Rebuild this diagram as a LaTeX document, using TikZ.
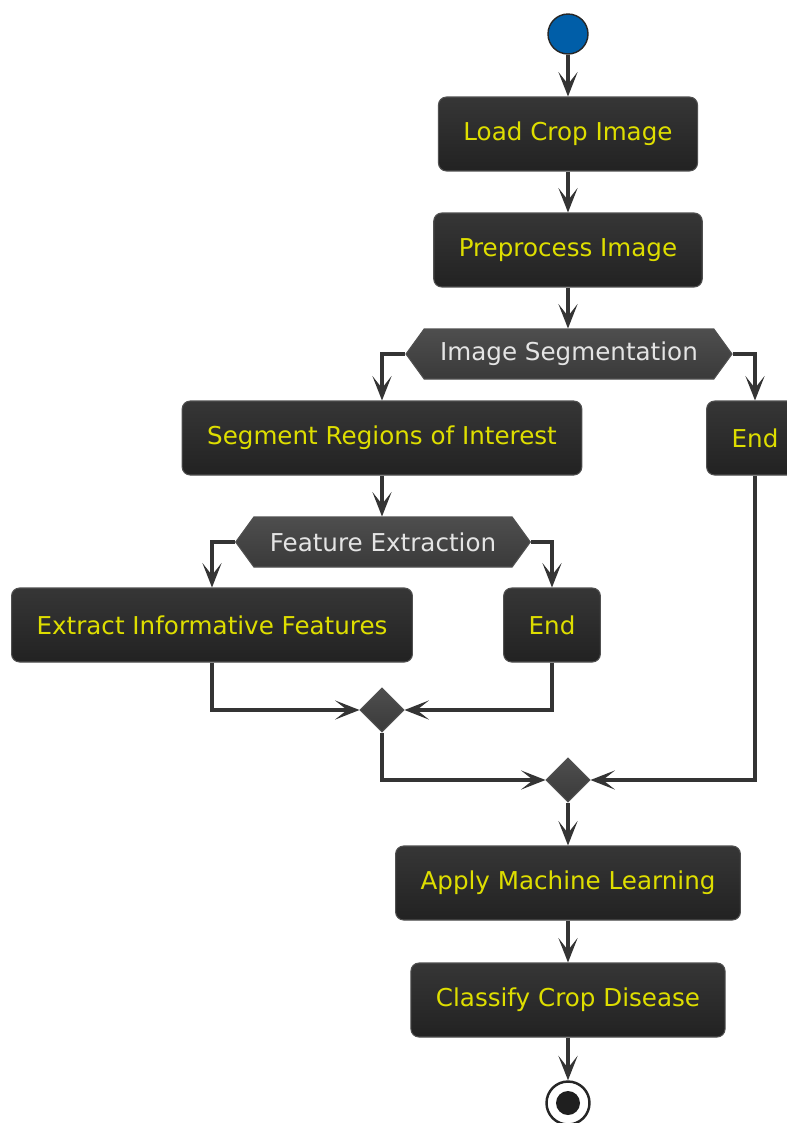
\documentclass[tikz,border=0pt]{standalone}
\usepackage{fontspec}
\setmainfont{DejaVu Sans}
\usepackage{xcolor}
\usepackage{tikz}
\usetikzlibrary{positioning,calc,shapes.symbols,shapes.geometric,arrows.meta}
\definecolor{umlLine}{RGB}{52,52,52}

\begin{document}
\begin{tikzpicture}[x=0.02cm, y=-0.02cm]
	\definecolor{actTop}{RGB}{54,54,54}
	\definecolor{actBot}{RGB}{34,34,34}
	\definecolor{actBorder}{RGB}{80,80,80}
	\definecolor{actText}{RGB}{222,222,0}
	\definecolor{hexTop}{RGB}{78,78,78}
	\definecolor{hexBot}{RGB}{58,58,58}
	\definecolor{hexText}{RGB}{228,228,228}
	\definecolor{startBlue}{RGB}{0,94,168}
	\tikzset{
		actnode/.style={
			shape=rectangle,
			rounded corners=0.16cm,
			draw=actBorder,
			line width=0.6pt,
			top color=actTop,
			bottom color=actBot,
			minimum height=1.48cm,
			inner xsep=0.5cm,
			font=\fontsize{14}{16}\selectfont,
			text=actText
		},
		choice/.style={
			shape=signal,
			signal to=west and east,
			signal pointer angle=108,
			draw=actBorder,
			line width=0.6pt,
			top color=hexTop,
			bottom color=hexBot,
			minimum height=1.0cm,
			inner xsep=0.32cm,
			font=\fontsize{14}{16}\selectfont,
			text=hexText
		},
		merge/.style={
			shape=diamond,
			draw=actBorder,
			line width=0.6pt,
			top color=hexTop,
			bottom color=hexBot,
			minimum size=0.88cm,
			inner sep=0pt
		},
		startdot/.style={circle, draw=black!85, line width=0.8pt, fill=startBlue, minimum size=0.8cm, inner sep=0pt},
		stopring/.style={circle, draw=black!85, line width=1.4pt, fill=white, minimum size=0.86cm, inner sep=0pt},
		stopdot/.style={circle, fill=black!88, minimum size=0.48cm, inner sep=0pt},
		flow/.style={draw=umlLine, line width=2.3pt, -{Stealth[length=14pt, width=11pt, inset=7pt, line width=0.8pt]}}
	}
	\useasboundingbox (0,0) rectangle (787,1123);
	
	% luong chinh
	\node[startdot] (start) at (568,34) {};
	\node[actnode] (load) at (568,134) {Load Crop Image};
	\node[actnode] (prep) at (568,250) {Preprocess Image};
	\node[choice] (seg) at (569,354) {Image Segmentation};
	\node[actnode] (roi) at (382,438) {Segment Regions of Interest};
	\node[actnode] (endA) at (755,438) {End};
	\node[choice] (fex) at (383,542) {Feature Extraction};
	\node[actnode] (feat) at (212,625) {Extract Informative Features};
	\node[actnode] (endB) at (552,625) {End};
	\node[merge] (mergeA) at (382,710) {};
	\node[merge] (mergeB) at (568,780) {};
	\node[actnode] (learn) at (568,883) {Apply Machine Learning};
	\node[actnode] (classify) at (568,1000) {Classify Crop Disease};
	\node[stopring] (stop) at (568,1103) {};
	\node[stopdot] (stopin) at (stop.center) {};
	
	\draw[flow] (start) -- (load);
	\draw[flow] (load) -- (prep);
	\draw[flow] (prep) -- (prep |- seg.north);
	\draw[flow] (seg.west) -| (roi.north);
	\draw[flow] (seg.east) -| (endA.north);
	\draw[flow] (roi) -- (roi |- fex.north);
	\draw[flow] (fex.west) -| (feat.north);
	\draw[flow] (fex.east) -| (endB.north);
	\draw[flow] (feat.south) |- (mergeA.west);
	\draw[flow] (endB.south) |- (mergeA.east);
	\draw[flow] (mergeA.south) |- (mergeB.west);
	\draw[flow] (endA.south) |- (mergeB.east);
	\draw[flow] (mergeB) -- (learn);
	\draw[flow] (learn) -- (classify);
	\draw[flow] (classify) -- (stop);
\end{tikzpicture}
\end{document}
